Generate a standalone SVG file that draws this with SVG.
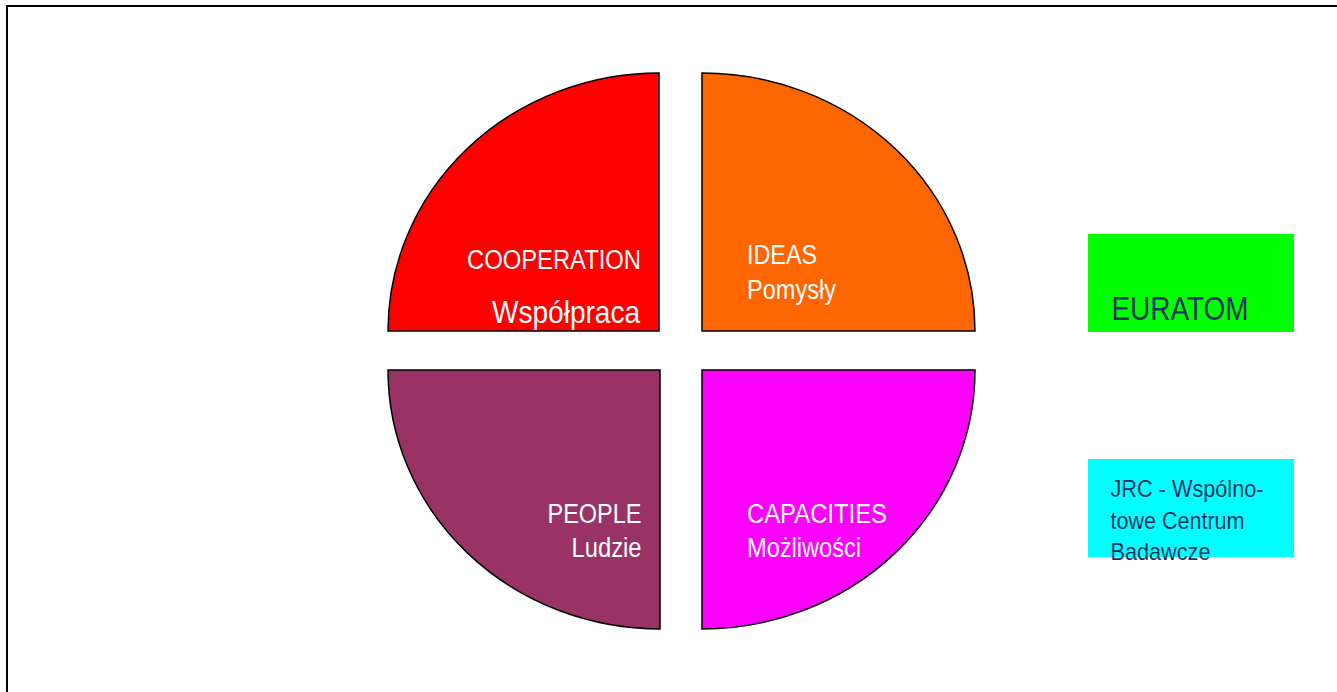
<svg xmlns="http://www.w3.org/2000/svg" width="1337" height="692" viewBox="0 0 1337 692">
<style>
.q{stroke:#000;stroke-width:1.5}
.w{fill:#fff;font-family:"Liberation Sans",Arial,sans-serif;font-size:27px}
.n{fill:#14365F;font-family:"Liberation Sans",Arial,sans-serif}
</style>
<rect x="0" y="0" width="1337" height="692" fill="#fff"/>
<rect x="7" y="6" width="1345" height="700" fill="none" stroke="#000" stroke-width="2"/>
<g id="cooperation">
<path class="q" fill="#FF0000" d="M659,73 L659,331 L388,331 A271,258 0 0,1 659,73 Z"/>
<text class="w" x="641" y="269" text-anchor="end" textLength="174" lengthAdjust="spacingAndGlyphs">COOPERATION</text>
<text class="w" x="640" y="323" text-anchor="end" style="font-size:32px" textLength="148" lengthAdjust="spacingAndGlyphs">Współpraca</text>
</g>
<g id="ideas">
<path class="q" fill="#FF6600" d="M702,73 A273,258 0 0,1 975,331 L702,331 Z"/>
<text class="w" x="747" y="264" textLength="70" lengthAdjust="spacingAndGlyphs">IDEAS</text>
<text class="w" x="747" y="299" textLength="89" lengthAdjust="spacingAndGlyphs">Pomysły</text>
</g>
<g id="people">
<path class="q" fill="#993366" d="M388,370 L660,370 L660,629 A272,259 0 0,1 388,370 Z"/>
<text class="w" x="641.5" y="522.5" text-anchor="end" textLength="94" lengthAdjust="spacingAndGlyphs">PEOPLE</text>
<text class="w" x="641.5" y="557" text-anchor="end" textLength="70" lengthAdjust="spacingAndGlyphs">Ludzie</text>
</g>
<g id="capacities">
<path class="q" fill="#FF00FF" d="M702,370 L975,370 A273,259 0 0,1 702,629 Z"/>
<text class="w" x="747" y="522.5" textLength="140" lengthAdjust="spacingAndGlyphs">CAPACITIES</text>
<text class="w" x="747" y="557" textLength="114" lengthAdjust="spacingAndGlyphs">Możliwości</text>
</g>
<g id="euratom">
<rect x="1088" y="234" width="206" height="98" fill="#00FF00"/>
<text class="n" x="1111.5" y="320" font-size="34" textLength="137" lengthAdjust="spacingAndGlyphs">EURATOM</text>
</g>
<g id="jrc">
<rect x="1088" y="459" width="206" height="98" fill="#00FFFF"/>
<text class="n" x="1110.5" y="496.5" font-size="24" textLength="153" lengthAdjust="spacingAndGlyphs">JRC - Wspólno-</text>
<text class="n" x="1110.5" y="528.5" font-size="24" textLength="134" lengthAdjust="spacingAndGlyphs">towe Centrum</text>
<text class="n" x="1110.5" y="559.5" font-size="24" textLength="100" lengthAdjust="spacingAndGlyphs">Badawcze</text>
</g>
<g id="connectors"></g>
</svg>
